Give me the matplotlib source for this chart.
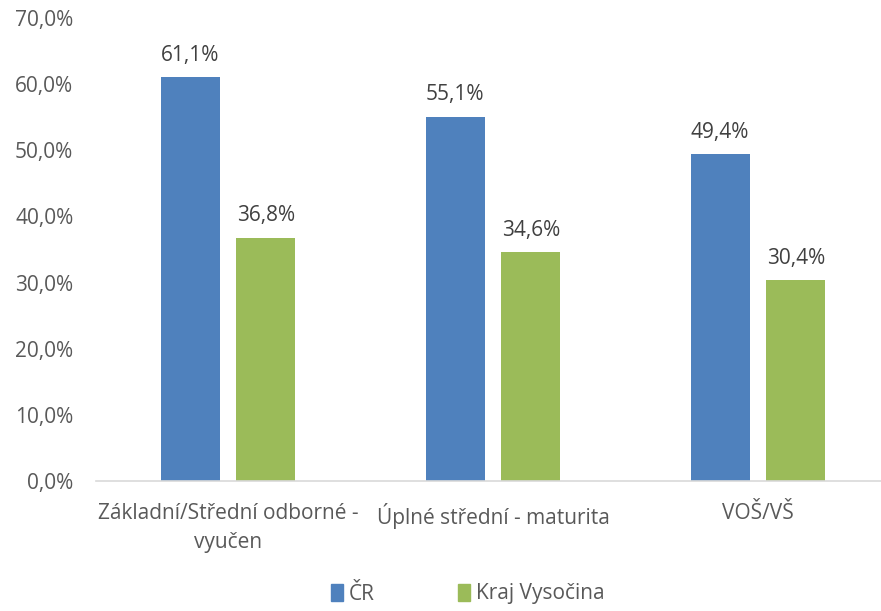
import numpy as np
import matplotlib.pyplot as plt
from matplotlib.patches import Patch

plt.rcParams['font.family'] = ['Open Sans', 'DejaVu Sans']

categories = ['Základní/Střední odborné -\nvyučen', 'Úplné střední - maturita', 'VOŠ/VŠ']
series = ['ČR', 'Kraj Vysočina']
cr = [61.1, 55.1, 49.4]
vysocina = [36.8, 34.6, 30.4]
colors = ['#4F81BD', '#9BBB59']
text_color = '#595959'

fig = plt.figure(figsize=(8.81, 6.11), dpi=100)
ax = fig.add_axes([95.5 / 881, 1 - 481 / 611, 795 / 881, 463 / 611])

x = np.arange(len(categories))
w = 0.223
off = 0.143
b1 = ax.bar(x - off, cr, w, color=colors[0])
b2 = ax.bar(x + off, vysocina, w, color=colors[1])

for bars, vals in ((b1, cr), (b2, vysocina)):
    for rect, v in zip(bars, vals):
        ax.text(rect.get_x() + rect.get_width() / 2, v + 1.7,
                f"{v:.1f}%".replace('.', ','), ha='center', va='bottom',
                fontsize=15, color='#404040')

ax.set_xlim(-0.5, 2.5)
ax.set_ylim(0, 70)
ax.set_yticks(np.arange(0, 71, 10))
ax.set_yticklabels([f"{t:.1f}%".replace('.', ',') for t in np.arange(0, 71, 10)])
ax.set_xticks(x)
ax.set_xticklabels(categories, linespacing=1.5)
ax.tick_params(axis='both', length=0, labelsize=15, colors=text_color)
ax.tick_params(axis='y', pad=16)
ax.tick_params(axis='x', pad=16)
for s in ['top', 'right', 'left']:
    ax.spines[s].set_visible(False)
ax.spines['bottom'].set_color('#D9D9D9')
ax.spines['bottom'].set_linewidth(1.2)

handles = [Patch(color=c, label=s) for c, s in zip(colors, series)]
fig.legend(handles=handles, loc='center', bbox_to_anchor=(468 / 881, 1 - 594 / 611),
           ncol=2, frameon=False, fontsize=15, handlelength=0.55, handleheight=0.85,
           handletextpad=0.3, columnspacing=4.0, labelcolor=text_color)

fig.savefig('out.png', dpi=100)
